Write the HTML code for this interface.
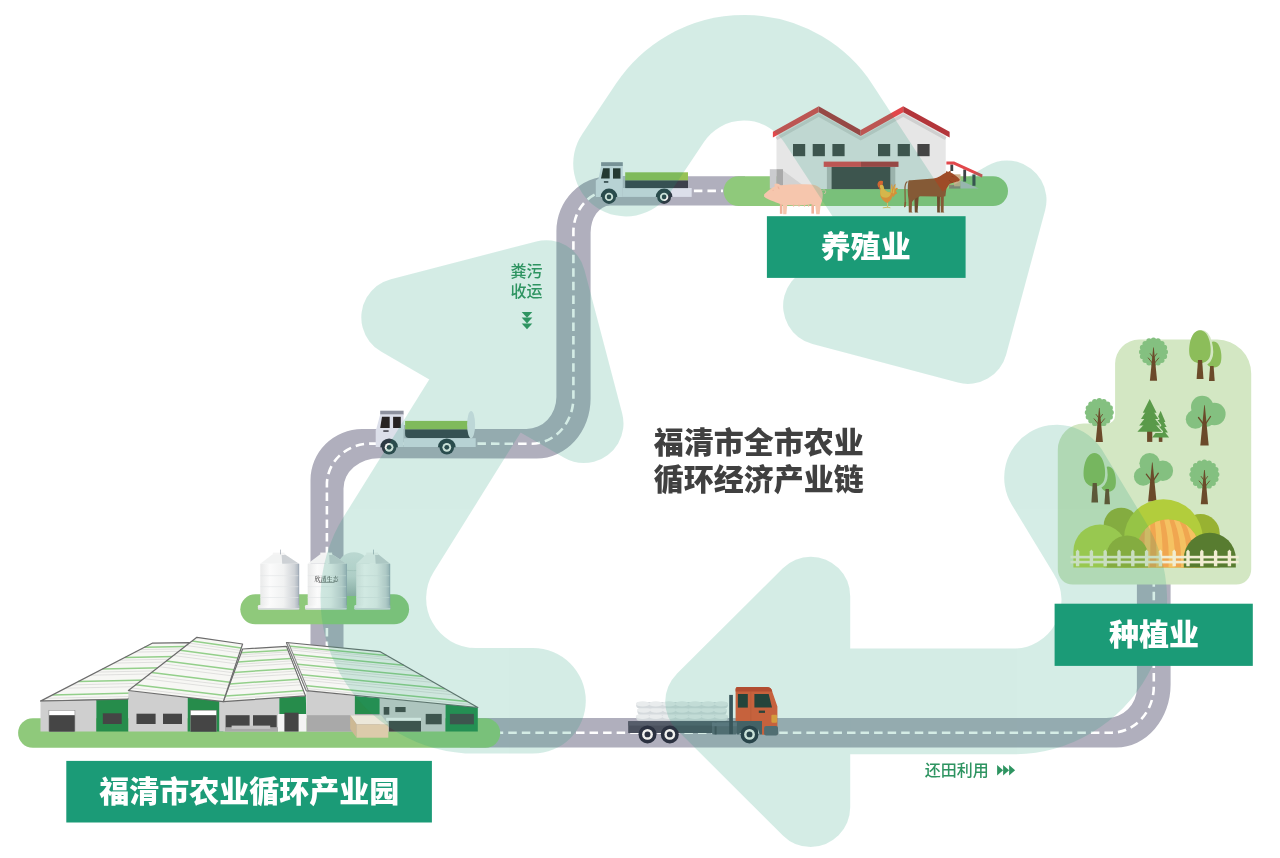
<!DOCTYPE html>
<html lang="zh-CN"><head><meta charset="utf-8"><title>福清市全市农业循环经济产业链</title>
<style>
html,body{margin:0;padding:0;background:#fff;}
body{width:1280px;height:858px;overflow:hidden;font-family:"Liberation Sans","Noto Sans CJK SC",sans-serif;}
svg{display:block;will-change:transform;}
text{font-family:"Liberation Sans","Noto Sans CJK SC",sans-serif;}
</style></head><body>
<svg width="1280" height="858" viewBox="0 0 1280 858">
<defs>
<linearGradient id="tank" x1="0" y1="0" x2="1" y2="0">
<stop offset="0" stop-color="#e9eaea"/><stop offset="0.25" stop-color="#fbfbfb"/><stop offset="0.6" stop-color="#f1f2f2"/><stop offset="0.88" stop-color="#cfd3d7"/><stop offset="1" stop-color="#aab4be"/>
</linearGradient>
<linearGradient id="tankb" x1="0" y1="0" x2="0" y2="1">
<stop offset="0" stop-color="#dfe6e6"/><stop offset="0.55" stop-color="#cfd9d8"/><stop offset="1" stop-color="#9fb0ad"/>
</linearGradient>
</defs>
<rect width="1280" height="858" fill="#ffffff"/>
<path d="M 745,176.2 L 610,176.2 A 53.6 54.8 0 0 0 556.4,231 L 556.4,397 A 30 32 0 0 1 526.4,429 L 362.1,429 A 51.6 51 0 0 0 310.5,480 L 310.5,665 L 343.5,665 L 343.5,488.4 A 35.4 30.2 0 0 1 378.9,458.2 L 536.7,458.5 A 53.9 60 0 0 0 590.6,398.5 L 590.6,232.7 A 19.4 27.1 0 0 1 610,205.6 L 745,205.6 Z" fill="#b0afbd"/>
<path d="M 470,717.9 L 1106.5,717.9 A 30.4 29.8 0 0 0 1136.9,688.1 L 1136.9,575 L 1170.6,575 L 1170.6,684.5 A 54.3 63 0 0 1 1116.3,747.5 L 470,747.5 Z" fill="#b0afbd"/>
<path d="M 723,190.9 L 610,190.9 A 36.6 41 0 0 0 573.4,231.9 L 573.4,397.7 A 42 46 0 0 1 531.4,443.7 L 370.5,443.6 A 43.6 40.8 0 0 0 326.9,484.4 L 326.9,665" fill="none" stroke="#fff" stroke-width="2.6" stroke-dasharray="8.5 5.05" stroke-dashoffset="6.5"/>
<path d="M 500,732.7 L 1111.4,732.7 A 42.4 46.4 0 0 0 1153.8,686.3 L 1153.8,575" fill="none" stroke="#fff" stroke-width="2.6" stroke-dasharray="8.5 5.05" stroke-dashoffset="5.3"/>
<rect x="723.6" y="176.2" width="284.4" height="29.8" rx="14.9" ry="14.9" fill="#8fc97b" />
<rect x="240.3" y="594.3" width="168.8" height="30.0" rx="15" ry="15" fill="#8fc97b" />
<rect x="18.1" y="718.3" width="482.1" height="29.4" rx="14.7" ry="14.7" fill="#8fc97b" />
<g><rect x="622.8" y="188.0" width="68.9" height="8.9" fill="#dcdfea" /><rect x="622.8" y="176.0" width="2.4" height="12.0" fill="#b9bcc8" /><rect x="625.2" y="172.3" width="62.8" height="8.3" fill="#97c255" /><rect x="625.2" y="180.5" width="62.8" height="7.6" fill="#3d404b" /><rect x="601.1" y="162.2" width="21.7" height="3.9" fill="#8d919e" /><polygon points="601.1,165.9 622.8,165.9 622.8,196.9 595.8,196.9 595.8,180.5 598.6,178.6" fill="#dcdfea" /><polygon points="603.1,168.3 609.7,168.3 609.7,178.6 601.0,178.6" fill="#272323" /><rect x="613.0" y="168.3" width="7.5" height="10.3" fill="#272323" /><rect x="603.9" y="181.1" width="4.4" height="1.7" fill="#3a3a44" /><path d="M 600.7,196.9 A 8.3 8.3 0 0 1 617.3,196.9 Z" fill="#2e3a44"/><circle cx="609.0" cy="196.9" r="7" fill="#2e3a44"/><circle cx="609.0" cy="196.9" r="4.20" fill="#f1f1ee"/><circle cx="609.0" cy="196.9" r="2.31" fill="#2e3a44"/><path d="M 655.8,196.9 A 8.3 8.3 0 0 1 672.4,196.9 Z" fill="#2e3a44"/><circle cx="664.1" cy="196.9" r="7" fill="#2e3a44"/><circle cx="664.1" cy="196.9" r="4.20" fill="#f1f1ee"/><circle cx="664.1" cy="196.9" r="2.31" fill="#2e3a44"/></g>
<g><rect x="403.6" y="438.2" width="72.1" height="8.8" fill="#dcdfea" /><rect x="403.6" y="425.0" width="1.6" height="13.2" fill="#b9bcc8" /><rect x="405.1" y="420.9" width="64.9" height="8.7" fill="#97c255" /><path d="M 405.1,429.5 L 470.6,429.5 L 470.6,437.9 L 409,437.9 Q 405.1,437.9 405.1,434 Z" fill="#3d404b"/><ellipse cx="471.1" cy="424.6" rx="4" ry="13.6" fill="#e3e6ee"/><rect x="380.2" y="410.7" width="23.4" height="4.0" fill="#8d919e" /><polygon points="380.2,414.5 403.6,414.5 403.6,447.0 375.7,447.0 375.7,430.0 376.3,429.0" fill="#dcdfea" /><polygon points="382.0,416.8 389.7,416.8 389.7,428.0 380.2,428.0" fill="#272323" /><rect x="393.1" y="416.8" width="7.7" height="11.2" fill="#272323" /><rect x="383.3" y="430.3" width="5.3" height="1.5" fill="#3a3a44" /><path d="M 380.2,447.3 A 8.9 8.9 0 0 1 398.0,447.3 Z" fill="#2e3a44"/><circle cx="389.1" cy="447.3" r="7.3" fill="#2e3a44"/><circle cx="389.1" cy="447.3" r="4.38" fill="#f1f1ee"/><circle cx="389.1" cy="447.3" r="2.41" fill="#2e3a44"/><path d="M 437.9,447.3 A 8.9 8.9 0 0 1 455.7,447.3 Z" fill="#2e3a44"/><circle cx="446.8" cy="447.3" r="7.3" fill="#2e3a44"/><circle cx="446.8" cy="447.3" r="4.38" fill="#f1f1ee"/><circle cx="446.8" cy="447.3" r="2.41" fill="#2e3a44"/></g>
<g><rect x="636.2" y="714.6" width="91.6" height="6.2" rx="3" fill="#d5dadd"/><ellipse cx="642.7" cy="716.5" rx="6.8" ry="2.6" fill="#e9eced"/><ellipse cx="655.8" cy="716.5" rx="6.8" ry="2.6" fill="#e9eced"/><ellipse cx="668.9" cy="716.5" rx="6.8" ry="2.6" fill="#e9eced"/><ellipse cx="682.0" cy="716.5" rx="6.8" ry="2.6" fill="#e9eced"/><ellipse cx="695.1" cy="716.5" rx="6.8" ry="2.6" fill="#e9eced"/><ellipse cx="708.2" cy="716.5" rx="6.8" ry="2.6" fill="#e9eced"/><ellipse cx="721.3" cy="716.5" rx="6.8" ry="2.6" fill="#e9eced"/><rect x="637.4" y="708.2" width="89.2" height="6.4" rx="3" fill="#d5dadd"/><ellipse cx="643.8" cy="710.1" rx="6.7" ry="2.6" fill="#e9eced"/><ellipse cx="656.5" cy="710.1" rx="6.7" ry="2.6" fill="#e9eced"/><ellipse cx="669.3" cy="710.1" rx="6.7" ry="2.6" fill="#e9eced"/><ellipse cx="682.0" cy="710.1" rx="6.7" ry="2.6" fill="#e9eced"/><ellipse cx="694.7" cy="710.1" rx="6.7" ry="2.6" fill="#e9eced"/><ellipse cx="707.5" cy="710.1" rx="6.7" ry="2.6" fill="#e9eced"/><ellipse cx="720.2" cy="710.1" rx="6.7" ry="2.6" fill="#e9eced"/><rect x="636.2" y="702.0" width="91.6" height="6.2" rx="3" fill="#d5dadd"/><ellipse cx="642.7" cy="703.9" rx="6.8" ry="2.6" fill="#e9eced"/><ellipse cx="655.8" cy="703.9" rx="6.8" ry="2.6" fill="#e9eced"/><ellipse cx="668.9" cy="703.9" rx="6.8" ry="2.6" fill="#e9eced"/><ellipse cx="682.0" cy="703.9" rx="6.8" ry="2.6" fill="#e9eced"/><ellipse cx="695.1" cy="703.9" rx="6.8" ry="2.6" fill="#e9eced"/><ellipse cx="708.2" cy="703.9" rx="6.8" ry="2.6" fill="#e9eced"/><ellipse cx="721.3" cy="703.9" rx="6.8" ry="2.6" fill="#e9eced"/><path d="M 628.2,721.2 L 745,721.2 L 758.1,721.2 L 758.1,733 L 628.2,733 Z" fill="#4b515e"/><rect x="628.2" y="721.2" width="129.9" height="4.4" fill="#565d6a" /><rect x="712.0" y="722.2" width="24.9" height="12.2" rx="1.5" ry="1.5" fill="#5d6472" /><rect x="714.6" y="722.2" width="2.0" height="12.2" fill="#464c58" /><rect x="712.0" y="722.4" width="24.9" height="3.8" fill="#687080" /><rect x="729.2" y="694.9" width="3.7" height="39.2" fill="#3f4654" /><path d="M 735.6,689 Q 735.6,687 737.6,687 L 767,687 Q 770.5,687 771.5,689.5 L 777.4,706.5 L 777.4,734.8 L 762,734.8 L 762,721 L 735.6,721 Z" fill="#ee5530"/><path d="M 735.6,689 Q 735.6,687 737.6,687 L 767,687 Q 770.5,687 771.5,689.5 L 772.3,691.6 L 735.6,691.6 Z" fill="#d63c22"/><rect x="750.6" y="691.6" width="0.6" height="29.4" fill="#d84a2a" /><rect x="737.9" y="694.0" width="9.9" height="13.6" fill="#27302e" /><polygon points="754.4,694.0 768.7,694.0 772.0,707.6 754.4,707.6" fill="#27302e" /><rect x="758.8" y="710.6" width="6.2" height="2.3" fill="#30302e" /><rect x="771.4" y="714.8" width="5.6" height="8.0" rx="1" ry="1" fill="#ff9d30" /><path d="M 739.5,734.4 A 10 10 0 0 1 759.5,734.4 L 762,734.4 L 762,721 L 737,721 L 737,734.4 Z" fill="#4d5563"/><rect x="764.1" y="726.1" width="13.9" height="9.3" rx="2" ry="2" fill="#5d6472" /><circle cx="647.5" cy="734.4" r="9" fill="#2b3140"/><circle cx="647.5" cy="734.4" r="5.40" fill="#f1f1ee"/><circle cx="647.5" cy="734.4" r="2.97" fill="#2b3140"/><circle cx="669.8" cy="734.4" r="9" fill="#2b3140"/><circle cx="669.8" cy="734.4" r="5.40" fill="#f1f1ee"/><circle cx="669.8" cy="734.4" r="2.97" fill="#2b3140"/><circle cx="749.5" cy="734.4" r="9" fill="#2b3140"/><circle cx="749.5" cy="734.4" r="5.40" fill="#f1f1ee"/><circle cx="749.5" cy="734.4" r="2.97" fill="#2b3140"/></g>
<g><polygon points="776.5,135.6 818.7,112.0 860.7,135.6 903.2,112.0 945.7,135.6 945.7,189.1 776.5,189.1" fill="#e6e6e6" /><polygon points="783.0,170.5 808.0,189.1 783.0,189.1" fill="#d2d2d2" /><rect x="769.8" y="169.2" width="6.6" height="19.4" fill="#cbcbce" /><rect x="776.4" y="169.2" width="6.6" height="19.4" fill="#a9a9a9" /><polyline points="776.5,138.6 818.7,115 860.7,138.6 903.2,115 945.7,138.6" fill="none" stroke="#cfcfcf" stroke-width="3.2"/><polygon points="772.9,131.7 818.7,106.2 818.7,112.2 772.9,137.6" fill="#e2474b" /><polygon points="818.7,106.2 860.7,130.1 860.7,136.1 818.7,112.2" fill="#b3353a" /><polygon points="860.7,130.1 903.2,106.2 903.2,112.2 860.7,136.1" fill="#e2474b" /><polygon points="903.2,106.2 949.6,131.7 949.6,137.6 903.2,112.2" fill="#b3353a" /><rect x="793.0" y="144.0" width="12.2" height="12.2" fill="#454545" /><rect x="812.7" y="144.0" width="12.2" height="12.2" fill="#454545" /><rect x="832.4" y="144.0" width="12.2" height="12.2" fill="#454545" /><rect x="878.0" y="144.0" width="12.2" height="12.2" fill="#454545" /><rect x="897.7" y="144.0" width="12.2" height="12.2" fill="#454545" /><rect x="917.4" y="144.0" width="12.2" height="12.2" fill="#454545" /><rect x="826.9" y="166.8" width="68.4" height="22.3" fill="#b9b9b9" /><rect x="831.6" y="166.8" width="58.7" height="22.3" fill="#454545" /><rect x="823.7" y="161.6" width="37.3" height="5.3" fill="#e2474b" /><rect x="861.0" y="161.6" width="37.5" height="5.3" fill="#b3353a" /><polygon points="949.0,184.9 960.5,184.9 960.5,188.6 949.0,188.6" fill="#8d8676" /><rect x="954.1" y="174.3" width="6.4" height="12.0" fill="#cdb08d" /><polygon points="960.5,180.6 978.8,188.6 960.5,188.6" fill="#b4bdbb" /><rect x="950.4" y="164.5" width="2.8" height="6.5" fill="#3d4446" /><rect x="963.3" y="169.5" width="2.8" height="12.1" fill="#3d4446" /><rect x="972.4" y="174.5" width="3.1" height="11.3" fill="#3d4446" /><polygon points="946.4,161.4 954.1,161.4 982.6,174.4 982.0,177.6 953.4,164.5 946.4,164.5" fill="#e2474b" /></g>
<g><rect x="779.9" y="203.0" width="2.5" height="10.8" fill="#efb29a" /><rect x="811.4" y="203.0" width="2.6" height="10.6" fill="#efb29a" /><path d="M 822.3,190.4 q 3,-1.4 3.4,1.4 q 0,2.2 -1.8,1.8" fill="none" stroke="#f6c6ad" stroke-width="0.9"/><path d="M 764.2,194.2 L 764,196.6 C 766,198.6 770,200.4 774,201.6 C 776,202.6 778,203.4 779.6,203.8 L 783,205 L 783.2,214.2 L 786.4,214.2 L 787.2,205 C 795,205.8 806,205.6 811.5,204 L 815.4,206 L 816.2,214.2 L 819.6,214.2 L 820.6,205 C 822.4,201 823.2,196.4 822.6,192.8 C 821.6,187.8 817,185 811,184.6 C 800,184 790,184.2 780.8,185.3 L 779.2,184.2 C 777.8,183.3 775.4,183.3 774.3,184.3 L 774.9,186.2 C 771,188.6 767,191.4 764.2,194.2 Z" fill="#f6c6ad"/><path d="M 777.6,186.2 C 778.8,186.4 779.6,187.6 779.4,189.4 C 778.2,189 777.4,187.8 777.6,186.2 Z" fill="#efb29a"/><path d="M 772.4,190.6 L 774,190.2" stroke="#efb29a" stroke-width="0.6" fill="none"/><ellipse cx="793.6" cy="205.6" rx="0.8" ry="1.1" fill="#efb29a"/><ellipse cx="799" cy="205.6" rx="0.8" ry="1.1" fill="#efb29a"/><ellipse cx="804.5" cy="205.6" rx="0.8" ry="1.1" fill="#efb29a"/><ellipse cx="808.6" cy="205.6" rx="0.8" ry="1.1" fill="#efb29a"/></g>
<g><path d="M 887.5,202 L 887.6,207.3 M 883.2,207.8 L 887.6,207.2 L 890,207.7" fill="none" stroke="#f3c96a" stroke-width="1" stroke-linecap="round"/><path d="M 890.6,194 C 890.8,189 891,185.6 891.9,183.4 C 892.6,185.4 892.6,187.6 892.6,189.6 C 893.2,186.6 894.2,184.4 895.6,183.8 C 895.4,185.6 895,187.4 895,189.2 C 895.8,187.8 897,187.4 898,188.4 C 896.6,189.2 896,190.6 896,191.8 C 896.8,191.8 897.3,192.6 897,193.8 C 895.6,193.6 894.6,195 893.4,197.2 Z" fill="#ff8e2c"/><path d="M 890.8,193 C 891,189 891.2,186.6 891.9,184.6 C 892.2,187 892,190 891.8,193 Z M 892.6,193 C 893,190 893.8,187.4 895,185.4 C 894.6,188 894.2,190.6 894,193.4 Z" fill="#ffbd42"/><path d="M 881,184.6 C 882.2,184.2 883,185 883.4,186.2 C 883.8,188 884.4,189.4 885.4,190.6 C 886.6,191.8 888.6,192.4 891.4,192.8 C 892.6,193.8 892.8,195.6 892.2,197 C 891.4,199.4 889.6,201.8 887.5,202.9 C 884.8,202.4 882.6,200.4 881.2,197.8 C 880,195.6 880,193 880.3,190.4 C 880.4,188.8 879.8,187.6 879.6,186.4 C 879.8,185.4 880.2,184.8 881,184.6 Z" fill="#ff8e2c"/><path d="M 881,184.6 C 882.2,184.2 883,185 883.4,186.2 C 883.8,188 884.4,189.4 885.4,190.6 C 886.6,191.8 888.6,192.4 890.8,192.8 C 891,195 889.6,197 887.4,197.6 C 884.6,198 882,197 880.8,195.4 C 880.2,193.8 880.2,192 880.3,190.4 C 880.4,188.8 879.8,187.6 879.6,186.4 C 879.8,185.4 880.2,184.8 881,184.6 Z" fill="#ffbd42"/><path d="M 877.5,184.4 C 877.6,182.4 879.4,180.6 881,180.9 C 881.8,180.4 882.8,180.6 883,181.4 C 883,183 882.8,184.2 882.2,185.2 C 881.4,184.6 880.4,184.8 879.8,185.6 C 879.4,186.4 879.4,187.2 879.6,188 C 878.4,187.4 877.6,186 877.5,184.4 Z" fill="#ff5a22"/><path d="M 878.7,187 C 879.2,187.6 879.8,187.8 880.3,188 L 880.4,189.6 C 879.4,189.4 878.7,188.4 878.7,187 Z" fill="#f0401e"/></g>
<g><path d="M 907.4,181.6 C 905,183 904.8,186 905,190 L 905.2,202 " fill="none" stroke="#9e4b27" stroke-width="1.2"/><path d="M 904.4,202 L 906.2,202 L 905.8,206.6 L 904,207.6 Z" fill="#9e4b27"/><polygon points="914.3,195.0 918.8,195.0 917.6,211.6 918.4,212.6 914.8,212.6" fill="#7f3b1e" /><polygon points="937.0,195.0 940.0,195.0 939.8,211.6 940.4,212.6 937.2,212.6" fill="#7f3b1e" /><path d="M 908.4,180.8 C 909,180.2 910,180.2 911,180.2 L 933.6,178.6 C 938,178 942,175 946,172.6 L 946.6,170.8 L 948,172 L 950.6,170.6 L 950.6,172.6 C 954,174 957,176.6 959.8,179.4 C 959.6,180.8 958.4,181.4 957,181.6 C 954,182.6 952,183.2 949.9,183.8 C 948,186 946.8,188 946.2,189.8 L 945.4,196.2 L 943.8,196.4 L 943.6,211.6 L 944.4,212.6 L 940.8,212.6 L 940.6,197 L 937.4,196.4 L 920.2,196.3 C 917,197.4 914,199.4 912,202 L 911.7,211.6 L 912.6,212.6 L 908.8,212.6 L 908.6,200 C 907.6,194 907.4,187 908.4,180.8 Z" fill="#9e4b27"/><path d="M 949,180 C 950,181.6 951.4,182.4 953,182.6" fill="none" stroke="#7f3b1e" stroke-width="0.5"/><path d="M 951.6,176.4 L 953.6,176.8" fill="none" stroke="#7f3b1e" stroke-width="0.5"/></g>
<g><path d="M 337.7,566 A 16.2 14.8 0 0 1 370,566 L 370,596 L 337.7,596 Z" fill="url(#tankb)"/><path d="M 337.7,568.4 C 345,571.4 362,571.4 370,568.4" fill="none" stroke="#b9c6c4" stroke-width="0.7"/><rect x="257.9" y="605" width="41.5" height="4.4" rx="1.2" fill="url(#tank)"/><rect x="257.9" y="608" width="41.5" height="1.4" rx="0.7" fill="#d9dcdf"/><rect x="260.3" y="563.8" width="38.7" height="41.7" fill="url(#tank)"/><rect x="260.3" y="575.5" width="38.7" height="0.6" fill="#e2e4e6"/><rect x="260.3" y="586.5" width="38.7" height="0.6" fill="#e2e4e6"/><rect x="260.3" y="597" width="38.7" height="0.6" fill="#e2e4e6"/><polygon points="260.3,563.8 272.4,554.4 285.0,554.4 299.0,563.8" fill="#f2f3f3" /><polygon points="281.6,554.4 285.0,554.4 299.0,563.8 282.2,563.8" fill="#cdd1d5" /><rect x="272.8" y="552.6" width="11.8" height="2.4" fill="#f4f4f4" /><rect x="298.5" y="563.8" width="0.7" height="41.2" fill="#98a4b2" /><rect x="280.0" y="549.6" width="0.6" height="4.8" fill="#8f9aa6" /><rect x="305.0" y="605" width="41.8" height="4.4" rx="1.2" fill="url(#tank)"/><rect x="305.0" y="608" width="41.8" height="1.4" rx="0.7" fill="#d9dcdf"/><rect x="307.7" y="563.8" width="38.8" height="41.7" fill="url(#tank)"/><rect x="307.7" y="575.5" width="38.8" height="0.6" fill="#e2e4e6"/><rect x="307.7" y="586.5" width="38.8" height="0.6" fill="#e2e4e6"/><rect x="307.7" y="597" width="38.8" height="0.6" fill="#e2e4e6"/><polygon points="307.7,563.8 319.9,554.4 332.5,554.4 346.5,563.8" fill="#f2f3f3" /><polygon points="329.1,554.4 332.5,554.4 346.5,563.8 329.7,563.8" fill="#cdd1d5" /><rect x="320.3" y="552.6" width="11.8" height="2.4" fill="#f4f4f4" /><rect x="346.0" y="563.8" width="0.7" height="41.2" fill="#98a4b2" /><text x="326.5" y="580.6" font-size="6" text-anchor="middle" fill="#4a4a4a" style="font-family:'Liberation Serif','Noto Serif CJK SC',serif;font-weight:500">欣清生态</text><rect x="318.5" y="582.3" width="16.0" height="0.6" fill="#666" /><rect x="354.3" y="605" width="36.1" height="4.4" rx="1.2" fill="url(#tank)"/><rect x="354.3" y="608" width="36.1" height="1.4" rx="0.7" fill="#d9dcdf"/><rect x="356.2" y="563.8" width="33.8" height="41.7" fill="url(#tank)"/><rect x="356.2" y="575.5" width="33.8" height="0.6" fill="#e2e4e6"/><rect x="356.2" y="586.5" width="33.8" height="0.6" fill="#e2e4e6"/><rect x="356.2" y="597" width="33.8" height="0.6" fill="#e2e4e6"/><polygon points="356.2,563.8 365.9,554.4 378.5,554.4 390.0,563.8" fill="#f2f3f3" /><polygon points="375.1,554.4 378.5,554.4 390.0,563.8 375.7,563.8" fill="#cdd1d5" /><rect x="366.3" y="552.6" width="11.8" height="2.4" fill="#f4f4f4" /><rect x="389.5" y="563.8" width="0.7" height="41.2" fill="#98a4b2" /><rect x="373.2" y="549.6" width="0.6" height="4.8" fill="#8f9aa6" /></g>
<g><polygon points="152.2,643.2 189.8,642.6 127.8,699.1 40.5,701.1" fill="#f7f7f4" /><line x1="144.3" y1="647.3" x2="185.4" y2="646.6" stroke="#93cf8a" stroke-width="1.5"/><line x1="139.8" y1="649.6" x2="182.9" y2="648.9" stroke="#d6d6d4" stroke-width="0.7"/><line x1="124.8" y1="657.4" x2="174.6" y2="656.5" stroke="#93cf8a" stroke-width="1.5"/><line x1="135.0" y1="652.1" x2="180.3" y2="651.3" stroke="#d6d6d4" stroke-width="0.7"/><line x1="119.4" y1="660.2" x2="171.6" y2="659.2" stroke="#d6d6d4" stroke-width="0.7"/><line x1="102.4" y1="669.0" x2="162.2" y2="667.8" stroke="#93cf8a" stroke-width="1.5"/><line x1="113.9" y1="663.1" x2="168.5" y2="662.0" stroke="#d6d6d4" stroke-width="0.7"/><line x1="96.5" y1="672.1" x2="158.9" y2="670.8" stroke="#d6d6d4" stroke-width="0.7"/><line x1="78.1" y1="681.6" x2="148.7" y2="680.1" stroke="#93cf8a" stroke-width="1.5"/><line x1="90.5" y1="675.2" x2="155.5" y2="673.8" stroke="#d6d6d4" stroke-width="0.7"/><line x1="71.8" y1="684.9" x2="145.2" y2="683.2" stroke="#d6d6d4" stroke-width="0.7"/><line x1="52.5" y1="694.9" x2="134.4" y2="693.1" stroke="#93cf8a" stroke-width="1.5"/><line x1="65.5" y1="688.2" x2="141.7" y2="686.5" stroke="#d6d6d4" stroke-width="0.7"/><line x1="45.8" y1="698.3" x2="130.8" y2="696.4" stroke="#d6d6d4" stroke-width="0.7"/><polygon points="152.2,643.2 189.8,642.6 127.8,699.1 40.5,701.1" fill="none" stroke="#6c6c6c" stroke-width="1.2" stroke-linejoin="round"/><polygon points="40.5,701.1 96.3,699.9 96.3,731.6 40.5,731.6" fill="#cfcfcf" /><polygon points="96.3,699.9 128.4,699.1 128.4,731.6 96.3,731.6" fill="#268c4b" /><rect x="48.6" y="710.0" width="26.6" height="21.6" fill="#8d8d8d" /><rect x="49.2" y="710.6" width="25.4" height="4.7" fill="#fff" /><rect x="49.2" y="715.3" width="25.4" height="16.3" fill="#454545" /><rect x="102.8" y="713.3" width="18.9" height="10.7" fill="#454545" /><polygon points="128.4,690.5 187.7,697.4 187.7,731.6 128.4,731.6" fill="#cfcfcf" /><polygon points="187.7,697.4 223.3,701.5 223.3,731.6 187.7,731.6" fill="#268c4b" /><rect x="136.5" y="713.7" width="19.1" height="10.3" fill="#454545" /><rect x="163.0" y="713.7" width="19.0" height="10.3" fill="#454545" /><rect x="190.2" y="710.0" width="26.6" height="21.6" fill="#7a8a7e" /><rect x="190.8" y="710.6" width="25.4" height="4.7" fill="#fff" /><rect x="190.8" y="715.3" width="25.4" height="16.3" fill="#454545" /><polygon points="219.2,701.6 279.3,697.6 279.3,731.6 219.2,731.6" fill="#cfcfcf" /><polygon points="279.3,697.6 305.8,695.9 306.3,714.0 279.3,714.0" fill="#268c4b" /><rect x="278.0" y="714.0" width="28.3" height="17.6" fill="#f4f4f4" /><rect x="284.4" y="712.7" width="14.2" height="18.9" fill="#454545" /><rect x="225.6" y="715.2" width="24.0" height="12.9" fill="#454545" /><rect x="253.0" y="715.2" width="23.7" height="12.9" fill="#454545" /><rect x="225.0" y="727.2" width="53.0" height="4.4" fill="#a9a9a9" /><rect x="231.6" y="725.6" width="38.6" height="3.3" fill="#c4c4c4" /><polygon points="306.3,690.7 354.8,695.9 354.8,731.6 306.3,731.6" fill="#cfcfcf" /><rect x="307.0" y="715.2" width="47.8" height="16.4" fill="#a9a9a9" /><polygon points="354.8,695.9 379.8,698.2 379.8,714.0 354.8,714.0" fill="#268c4b" /><rect x="354.8" y="714.0" width="25.0" height="17.6" fill="#a9a9a9" /><polygon points="379.8,698.2 445.5,703.9 445.5,731.6 379.8,731.6" fill="#cfcfcf" /><polygon points="445.5,703.9 477.8,707.5 477.8,731.6 445.5,731.6" fill="#268c4b" /><rect x="383.7" y="707.0" width="5.6" height="7.7" fill="#454545" /><rect x="395.3" y="707.0" width="10.3" height="5.1" fill="#454545" /><rect x="386.2" y="717.8" width="34.8" height="3.1" fill="#f7f7f7" /><rect x="388.8" y="720.9" width="32.2" height="10.7" fill="#454545" /><rect x="425.7" y="713.9" width="16.0" height="10.4" fill="#454545" /><rect x="449.9" y="713.9" width="24.0" height="10.4" fill="#454545" /><line x1="40.5" y1="701.1" x2="128.2" y2="699.2" stroke="#6c6c6c" stroke-width="1"/><polygon points="242.6,649.0 286.5,646.4 305.5,695.9 223.3,701.6" fill="#f7f7f4" /><line x1="241.2" y1="652.7" x2="287.8" y2="649.9" stroke="#93cf8a" stroke-width="1.5"/><line x1="240.5" y1="654.8" x2="288.6" y2="651.9" stroke="#d6d6d4" stroke-width="0.7"/><line x1="237.9" y1="661.9" x2="291.2" y2="658.5" stroke="#93cf8a" stroke-width="1.5"/><line x1="239.6" y1="657.1" x2="289.4" y2="654.0" stroke="#d6d6d4" stroke-width="0.7"/><line x1="236.9" y1="664.4" x2="292.1" y2="660.9" stroke="#d6d6d4" stroke-width="0.7"/><line x1="234.0" y1="672.4" x2="295.0" y2="668.5" stroke="#93cf8a" stroke-width="1.5"/><line x1="236.0" y1="667.0" x2="293.0" y2="663.4" stroke="#d6d6d4" stroke-width="0.7"/><line x1="233.0" y1="675.2" x2="296.0" y2="671.1" stroke="#d6d6d4" stroke-width="0.7"/><line x1="229.8" y1="683.9" x2="299.1" y2="679.2" stroke="#93cf8a" stroke-width="1.5"/><line x1="231.9" y1="678.1" x2="297.0" y2="673.8" stroke="#d6d6d4" stroke-width="0.7"/><line x1="228.7" y1="686.8" x2="300.2" y2="682.0" stroke="#d6d6d4" stroke-width="0.7"/><line x1="225.4" y1="696.0" x2="303.5" y2="690.6" stroke="#93cf8a" stroke-width="1.5"/><line x1="227.6" y1="689.8" x2="301.3" y2="684.8" stroke="#d6d6d4" stroke-width="0.7"/><line x1="224.2" y1="699.1" x2="304.6" y2="693.5" stroke="#d6d6d4" stroke-width="0.7"/><polygon points="242.6,649.0 286.5,646.4 305.5,695.9 223.3,701.6" fill="none" stroke="#6c6c6c" stroke-width="1.2" stroke-linejoin="round"/><polygon points="196.9,637.3 242.6,644.0 223.3,701.6 128.4,690.5" fill="#f7f7f4" /><line x1="192.1" y1="641.1" x2="241.2" y2="648.1" stroke="#93cf8a" stroke-width="1.5"/><line x1="189.3" y1="643.2" x2="240.5" y2="650.4" stroke="#d6d6d4" stroke-width="0.7"/><line x1="180.1" y1="650.3" x2="237.9" y2="658.1" stroke="#93cf8a" stroke-width="1.5"/><line x1="186.4" y1="645.5" x2="239.6" y2="652.9" stroke="#d6d6d4" stroke-width="0.7"/><line x1="176.8" y1="652.9" x2="236.9" y2="660.9" stroke="#d6d6d4" stroke-width="0.7"/><line x1="166.4" y1="661.0" x2="234.0" y2="669.7" stroke="#93cf8a" stroke-width="1.5"/><line x1="173.4" y1="655.5" x2="236.0" y2="663.8" stroke="#d6d6d4" stroke-width="0.7"/><line x1="162.7" y1="663.8" x2="233.0" y2="672.7" stroke="#d6d6d4" stroke-width="0.7"/><line x1="151.5" y1="672.6" x2="229.8" y2="682.2" stroke="#93cf8a" stroke-width="1.5"/><line x1="159.0" y1="666.7" x2="231.9" y2="675.8" stroke="#d6d6d4" stroke-width="0.7"/><line x1="147.6" y1="675.6" x2="228.7" y2="685.4" stroke="#d6d6d4" stroke-width="0.7"/><line x1="135.7" y1="684.8" x2="225.4" y2="695.4" stroke="#93cf8a" stroke-width="1.5"/><line x1="143.7" y1="678.6" x2="227.6" y2="688.7" stroke="#d6d6d4" stroke-width="0.7"/><line x1="131.7" y1="688.0" x2="224.2" y2="698.8" stroke="#d6d6d4" stroke-width="0.7"/><polygon points="196.9,637.3 242.6,644.0 223.3,701.6 128.4,690.5" fill="none" stroke="#6c6c6c" stroke-width="1.2" stroke-linejoin="round"/><polygon points="286.5,642.5 379.8,651.6 477.8,707.5 306.3,690.7" fill="#f7f7f4" /><line x1="287.9" y1="645.9" x2="386.7" y2="655.6" stroke="#93cf8a" stroke-width="1.5"/><line x1="288.7" y1="647.8" x2="390.7" y2="657.8" stroke="#d6d6d4" stroke-width="0.7"/><line x1="291.4" y1="654.3" x2="403.8" y2="665.3" stroke="#93cf8a" stroke-width="1.5"/><line x1="289.5" y1="649.9" x2="394.9" y2="660.2" stroke="#d6d6d4" stroke-width="0.7"/><line x1="292.3" y1="656.6" x2="408.6" y2="668.0" stroke="#d6d6d4" stroke-width="0.7"/><line x1="295.3" y1="664.0" x2="423.5" y2="676.5" stroke="#93cf8a" stroke-width="1.5"/><line x1="293.3" y1="659.0" x2="413.4" y2="670.8" stroke="#d6d6d4" stroke-width="0.7"/><line x1="296.4" y1="666.5" x2="428.7" y2="679.5" stroke="#d6d6d4" stroke-width="0.7"/><line x1="299.6" y1="674.5" x2="444.8" y2="688.7" stroke="#93cf8a" stroke-width="1.5"/><line x1="297.4" y1="669.1" x2="434.0" y2="682.5" stroke="#d6d6d4" stroke-width="0.7"/><line x1="300.7" y1="677.2" x2="450.3" y2="691.8" stroke="#d6d6d4" stroke-width="0.7"/><line x1="304.2" y1="685.5" x2="467.3" y2="701.5" stroke="#93cf8a" stroke-width="1.5"/><line x1="301.9" y1="679.9" x2="455.9" y2="695.0" stroke="#d6d6d4" stroke-width="0.7"/><line x1="305.4" y1="688.4" x2="473.1" y2="704.8" stroke="#d6d6d4" stroke-width="0.7"/><polygon points="286.5,642.5 379.8,651.6 477.8,707.5 306.3,690.7" fill="none" stroke="#6c6c6c" stroke-width="1.2" stroke-linejoin="round"/><polygon points="286.5,642.5 288.6,643.2 308.4,691.0 306.3,690.7" fill="#ececec" stroke="#6c6c6c" stroke-width="0.8" stroke-linejoin="round"/><polygon points="350.2,715.2 381.1,715.2 388.3,724.3 356.6,724.3" fill="#ece8da" /><polygon points="350.2,715.2 356.6,724.3 356.6,737.7 350.2,729.0" fill="#cdb994" /><rect x="356.6" y="724.3" width="31.7" height="13.4" fill="#dccbab" /></g>
<path d="M 1139.1,339.6 L 1217.2,339.6 A 34 34 0 0 1 1251.2,373.6 L 1251.2,569.6 A 15 15 0 0 1 1236.2,584.6 L 1072.8,584.6 A 15 15 0 0 1 1057.8,569.6 L 1057.8,449.6 A 26 26 0 0 1 1083.8,423.6 L 1107.1,423.6 A 8 8 0 0 0 1115.1,415.6 L 1115.1,363.6 A 24 24 0 0 1 1139.1,339.6 Z" fill="#d3e7c3"/>
<g><circle cx="1153.5" cy="351.9" r="12.8" fill="#84c080"/><circle cx="1165.3" cy="351.9" r="2.7" fill="#84c080"/><circle cx="1164.4" cy="356.4" r="2.7" fill="#84c080"/><circle cx="1161.8" cy="360.2" r="2.7" fill="#84c080"/><circle cx="1158.0" cy="362.8" r="2.7" fill="#84c080"/><circle cx="1153.5" cy="363.7" r="2.7" fill="#84c080"/><circle cx="1149.0" cy="362.8" r="2.7" fill="#84c080"/><circle cx="1145.2" cy="360.2" r="2.7" fill="#84c080"/><circle cx="1142.6" cy="356.4" r="2.7" fill="#84c080"/><circle cx="1141.7" cy="351.9" r="2.7" fill="#84c080"/><circle cx="1142.6" cy="347.4" r="2.7" fill="#84c080"/><circle cx="1145.2" cy="343.6" r="2.7" fill="#84c080"/><circle cx="1149.0" cy="341.0" r="2.7" fill="#84c080"/><circle cx="1153.5" cy="340.1" r="2.7" fill="#84c080"/><circle cx="1158.0" cy="341.0" r="2.7" fill="#84c080"/><circle cx="1161.8" cy="343.6" r="2.7" fill="#84c080"/><circle cx="1164.4" cy="347.4" r="2.7" fill="#84c080"/><path d="M 1149.9,380.7 L 1157.1,380.7 L 1153.8,347.4 L 1153.2,347.4 Z" fill="#6b4a2a"/><path d="M 1153.5,364.4 L 1148.3,358.0 M 1153.5,364.4 L 1158.7,358.0 M 1153.5,358.1 L 1150.3,353.7 M 1153.5,358.1 L 1156.7,353.7" stroke="#6b4a2a" stroke-width="0.9" fill="none" stroke-linecap="round"/><path d="M 1213.6,341.6 C 1221.1,341.6 1222.7,357.9 1220.7,362.7 C 1218.3,369.2 1208.9,369.2 1206.5,362.7 C 1204.5,357.9 1206.1,341.6 1213.6,341.6 Z" fill="#8cbd5a"/><path d="M 1201.0,331.4 C 1211.3,331.4 1213.4,352.1 1210.7,358.3 C 1207.5,366.6 1194.5,366.6 1191.3,358.3 C 1188.6,352.1 1190.7,331.4 1201.0,331.4 Z" fill="#d3e7c3" stroke="#d3e7c3" stroke-width="2.6"/><path d="M 1200.0,330.2 C 1210.3,330.2 1212.4,350.9 1209.7,357.1 C 1206.5,365.4 1193.5,365.4 1190.3,357.1 C 1187.6,350.9 1189.7,330.2 1200.0,330.2 Z" fill="#8cbd5a"/><path d="M 1196.6,379.0 L 1203.5,379.0 L 1202.1,360.0 L 1198.0,360.0 Z" fill="#6b4a2a"/><path d="M 1209.0,381.0 L 1214.7,381.0 L 1213.6,366.0 L 1210.1,366.0 Z" fill="#6b4a2a"/><circle cx="1099.3" cy="412.5" r="12.8" fill="#84c080"/><circle cx="1111.1" cy="412.5" r="2.7" fill="#84c080"/><circle cx="1110.2" cy="417.0" r="2.7" fill="#84c080"/><circle cx="1107.6" cy="420.8" r="2.7" fill="#84c080"/><circle cx="1103.8" cy="423.4" r="2.7" fill="#84c080"/><circle cx="1099.3" cy="424.3" r="2.7" fill="#84c080"/><circle cx="1094.8" cy="423.4" r="2.7" fill="#84c080"/><circle cx="1091.0" cy="420.8" r="2.7" fill="#84c080"/><circle cx="1088.4" cy="417.0" r="2.7" fill="#84c080"/><circle cx="1087.5" cy="412.5" r="2.7" fill="#84c080"/><circle cx="1088.4" cy="408.0" r="2.7" fill="#84c080"/><circle cx="1091.0" cy="404.2" r="2.7" fill="#84c080"/><circle cx="1094.8" cy="401.6" r="2.7" fill="#84c080"/><circle cx="1099.3" cy="400.7" r="2.7" fill="#84c080"/><circle cx="1103.8" cy="401.6" r="2.7" fill="#84c080"/><circle cx="1107.6" cy="404.2" r="2.7" fill="#84c080"/><circle cx="1110.2" cy="408.0" r="2.7" fill="#84c080"/><path d="M 1095.7,441.9 L 1102.9,441.9 L 1099.6,408.0 L 1099.0,408.0 Z" fill="#6b4a2a"/><path d="M 1099.3,425.2 L 1094.1,418.8 M 1099.3,425.2 L 1104.5,418.8 M 1099.3,418.8 L 1096.1,414.4 M 1099.3,418.8 L 1102.5,414.4" stroke="#6b4a2a" stroke-width="0.9" fill="none" stroke-linecap="round"/><rect x="1158.8" y="436.6" width="3.6" height="5.3" fill="#6b4a2a"/><path d="M 1160.6,410.8 L 1165.4,421.9 L 1155.8,421.9 Z" fill="#5a9a4a"/><path d="M 1160.6,416.0 L 1166.6,427.1 L 1154.6,427.1 Z" fill="#5a9a4a"/><path d="M 1160.6,421.3 L 1167.9,432.4 L 1153.3,432.4 Z" fill="#5a9a4a"/><path d="M 1160.6,426.5 L 1169.1,437.6 L 1152.1,437.6 Z" fill="#5a9a4a"/><rect x="1147.1" y="430.8" width="5.2" height="1.0" fill="#6b4a2a"/><path d="M 1149.7,399.1 L 1156.6,412.7 L 1142.8,412.7 Z" fill="#d3e7c3" stroke="#d3e7c3" stroke-width="2.2" stroke-linejoin="round"/><path d="M 1149.7,405.5 L 1158.4,419.0 L 1141.0,419.0 Z" fill="#d3e7c3" stroke="#d3e7c3" stroke-width="2.2" stroke-linejoin="round"/><path d="M 1149.7,411.9 L 1160.2,425.4 L 1139.2,425.4 Z" fill="#d3e7c3" stroke="#d3e7c3" stroke-width="2.2" stroke-linejoin="round"/><path d="M 1149.7,418.2 L 1162.0,431.8 L 1137.4,431.8 Z" fill="#d3e7c3" stroke="#d3e7c3" stroke-width="2.2" stroke-linejoin="round"/><rect x="1147.1" y="430.8" width="5.2" height="11.1" fill="#6b4a2a"/><path d="M 1149.7,399.1 L 1156.6,412.7 L 1142.8,412.7 Z" fill="#5a9a4a"/><path d="M 1149.7,405.5 L 1158.4,419.0 L 1141.0,419.0 Z" fill="#5a9a4a"/><path d="M 1149.7,411.9 L 1160.2,425.4 L 1139.2,425.4 Z" fill="#5a9a4a"/><path d="M 1149.7,418.2 L 1162.0,431.8 L 1137.4,431.8 Z" fill="#5a9a4a"/><circle cx="1202.2" cy="407.0" r="11.2" fill="#84c080"/><circle cx="1214.4" cy="414.0" r="11.2" fill="#84c080"/><circle cx="1195.4" cy="419.2" r="9.6" fill="#84c080"/><circle cx="1206.0" cy="418.0" r="9.0" fill="#84c080"/><path d="M 1200.3,445.4 L 1208.7,445.4 L 1204.8,405.2 L 1204.2,405.2 Z" fill="#6b4a2a"/><path d="M 1204.5,425.5 L 1198.5,417.5 M 1204.5,425.5 L 1210.5,416.5" stroke="#6b4a2a" stroke-width="1.3" fill="none" stroke-linecap="round"/><path d="M 1108.2,466.4 C 1115.6,466.4 1117.2,482.3 1115.2,487.0 C 1112.9,493.3 1103.5,493.3 1101.2,487.0 C 1099.2,482.3 1100.8,466.4 1108.2,466.4 Z" fill="#8cbd5a"/><path d="M 1095.4,454.2 C 1105.7,454.2 1107.8,475.2 1105.1,481.4 C 1101.9,489.8 1088.9,489.8 1085.7,481.4 C 1083.0,475.2 1085.1,454.2 1095.4,454.2 Z" fill="#d3e7c3" stroke="#d3e7c3" stroke-width="2.6"/><path d="M 1094.4,453.0 C 1104.7,453.0 1106.8,474.0 1104.1,480.2 C 1100.9,488.6 1087.9,488.6 1084.7,480.2 C 1082.0,474.0 1084.1,453.0 1094.4,453.0 Z" fill="#8cbd5a"/><path d="M 1091.4,502.5 L 1098.1,502.5 L 1096.8,483.0 L 1092.7,483.0 Z" fill="#6b4a2a"/><path d="M 1104.4,504.3 L 1110.0,504.3 L 1108.9,489.0 L 1105.5,489.0 Z" fill="#6b4a2a"/><circle cx="1149.7" cy="463.3" r="10.3" fill="#84c080"/><circle cx="1162.8" cy="470.8" r="10.3" fill="#84c080"/><circle cx="1143.2" cy="476.4" r="9.3" fill="#84c080"/><circle cx="1154.0" cy="475.0" r="8.5" fill="#84c080"/><path d="M 1148.1,501.5 L 1156.5,501.5 L 1152.6,462.4 L 1152.0,462.4 Z" fill="#6b4a2a"/><path d="M 1152.3,482.2 L 1146.3,474.2 M 1152.3,482.2 L 1158.3,473.2" stroke="#6b4a2a" stroke-width="1.3" fill="none" stroke-linecap="round"/><circle cx="1204.4" cy="474.5" r="13.3" fill="#84c080"/><circle cx="1216.7" cy="474.5" r="2.7" fill="#84c080"/><circle cx="1215.8" cy="479.2" r="2.7" fill="#84c080"/><circle cx="1213.1" cy="483.2" r="2.7" fill="#84c080"/><circle cx="1209.1" cy="485.9" r="2.7" fill="#84c080"/><circle cx="1204.4" cy="486.8" r="2.7" fill="#84c080"/><circle cx="1199.7" cy="485.9" r="2.7" fill="#84c080"/><circle cx="1195.7" cy="483.2" r="2.7" fill="#84c080"/><circle cx="1193.0" cy="479.2" r="2.7" fill="#84c080"/><circle cx="1192.1" cy="474.5" r="2.7" fill="#84c080"/><circle cx="1193.0" cy="469.8" r="2.7" fill="#84c080"/><circle cx="1195.7" cy="465.8" r="2.7" fill="#84c080"/><circle cx="1199.7" cy="463.1" r="2.7" fill="#84c080"/><circle cx="1204.4" cy="462.2" r="2.7" fill="#84c080"/><circle cx="1209.1" cy="463.1" r="2.7" fill="#84c080"/><circle cx="1213.1" cy="465.8" r="2.7" fill="#84c080"/><circle cx="1215.8" cy="469.8" r="2.7" fill="#84c080"/><path d="M 1200.8,504.3 L 1208.0,504.3 L 1204.8,470.0 L 1204.1,470.0 Z" fill="#6b4a2a"/><path d="M 1204.4,487.4 L 1199.2,481.0 M 1204.4,487.4 L 1209.6,481.0 M 1204.4,480.9 L 1201.2,476.5 M 1204.4,480.9 L 1207.6,476.5" stroke="#6b4a2a" stroke-width="0.9" fill="none" stroke-linecap="round"/><clipPath id="fld"><circle cx="1168.2" cy="551" r="31.6"/></clipPath><clipPath id="hillclip"><rect x="1050" y="480" width="220" height="87.4"/></clipPath><g clip-path="url(#hillclip)"><path d="M 1103.7,607.4 L 1103.7,525.2 A 17.5 17.5 0 0 1 1138.7,525.2 L 1138.7,607.4 Z" fill="#9cb034"/><path d="M 1181.3,607.4 L 1181.3,533.2 A 19.2 19.2 0 0 1 1219.7,533.2 L 1219.7,607.4 Z" fill="#98b232"/><path d="M 1124.0,607.4 L 1124.0,538.7 A 39.4 39.4 0 0 1 1202.8,538.7 L 1202.8,607.4 Z" fill="#b2cd3c"/><path d="M 1136.6,607.4 L 1136.6,551.0 A 31.6 31.6 0 0 1 1199.8,551.0 L 1199.8,607.4 Z" fill="#f0a650"/><g clip-path="url(#fld)"><path d="M 1144.9,515 Q 1145.0,538 1143.5,568 L 1149.7,568 Q 1151.2,538 1149.8,515 Z" fill="#f5c262"/><path d="M 1153.9,515 Q 1157.5,538 1156.0,568 L 1162.2,568 Q 1163.7,538 1158.8,515 Z" fill="#f5c262"/><path d="M 1162.9,515 Q 1170.0,538 1168.5,568 L 1174.7,568 Q 1176.2,538 1167.8,515 Z" fill="#f5c262"/><path d="M 1171.9,515 Q 1182.5,538 1181.0,568 L 1187.2,568 Q 1188.7,538 1176.8,515 Z" fill="#f5c262"/><path d="M 1180.9,515 Q 1195.0,538 1193.5,568 L 1199.7,568 Q 1201.2,538 1185.8,515 Z" fill="#f5c262"/></g><path d="M 1073.4,607.4 L 1073.4,551.3 A 26.8 26.8 0 0 1 1127.0,551.3 L 1127.0,607.4 Z" fill="#b5d248"/><path d="M 1106.4,607.4 L 1106.4,556.3 A 20.8 20.8 0 0 1 1148.0,556.3 L 1148.0,607.4 Z" fill="#9cb034"/><path d="M 1183.8,607.4 L 1183.8,558.7 A 26.0 26.0 0 0 1 1235.8,558.7 L 1235.8,607.4 Z" fill="#587c30"/></g><rect x="1070.5" y="555.8" width="168.2" height="2.6" fill="#f1edd2" /><rect x="1070.5" y="560.8" width="168.2" height="2.6" fill="#f1edd2" /><polygon points="1075.9,566.2 1075.9,551.6 1077.6,549.5 1079.3,551.6 1079.3,566.2" fill="#f1edd2" /><polygon points="1089.7,566.2 1089.7,551.6 1091.4,549.5 1093.1,551.6 1093.1,566.2" fill="#f1edd2" /><polygon points="1103.5,566.2 1103.5,551.6 1105.2,549.5 1106.9,551.6 1106.9,566.2" fill="#f1edd2" /><polygon points="1117.3,566.2 1117.3,551.6 1119.0,549.5 1120.7,551.6 1120.7,566.2" fill="#f1edd2" /><polygon points="1131.1,566.2 1131.1,551.6 1132.8,549.5 1134.5,551.6 1134.5,566.2" fill="#f1edd2" /><polygon points="1144.9,566.2 1144.9,551.6 1146.6,549.5 1148.3,551.6 1148.3,566.2" fill="#f1edd2" /><polygon points="1158.7,566.2 1158.7,551.6 1160.4,549.5 1162.1,551.6 1162.1,566.2" fill="#f1edd2" /><polygon points="1172.5,566.2 1172.5,551.6 1174.2,549.5 1175.9,551.6 1175.9,566.2" fill="#f1edd2" /><polygon points="1186.3,566.2 1186.3,551.6 1188.0,549.5 1189.7,551.6 1189.7,566.2" fill="#f1edd2" /><polygon points="1200.1,566.2 1200.1,551.6 1201.8,549.5 1203.5,551.6 1203.5,566.2" fill="#f1edd2" /><polygon points="1213.9,566.2 1213.9,551.6 1215.6,549.5 1217.3,551.6 1217.3,566.2" fill="#f1edd2" /><polygon points="1227.7,566.2 1227.7,551.6 1229.4,549.5 1231.1,551.6 1231.1,566.2" fill="#f1edd2" /></g>
<g opacity="0.185" fill="#1b9b77" stroke="#1b9b77"><path d="M 533,700.8 L 476,700.8 A 102.5 102.5 0 0 1 389.1,543.7 L 484,391.5" fill="none" stroke-width="105.6" stroke-linecap="round"/><polygon points="400.8,317.4 546.2,279.7 584.0,423.5" stroke-width="79.0" stroke-linejoin="round"/><path d="M 626,163.6 L 660.1,112.7 A 100.8 100.8 0 0 1 828.4,113.5 L 907.5,234.6" fill="none" stroke-width="105.6" stroke-linecap="round"/><polygon points="1007.0,200.0 822.6,305.8 968.0,344.4" stroke-width="79.0" stroke-linejoin="round"/><path d="M 1057,477.5 L 1098.8,546.4 A 101.2 101.2 0 0 1 1013,701.4 L 840,701.4" fill="none" stroke-width="105.6" stroke-linecap="round"/><polygon points="810.7,596.2 810.7,807.4 704.7,701.8" stroke-width="79.0" stroke-linejoin="round"/></g>
<rect x="66.3" y="760.9" width="365.6" height="61.6" fill="#1b9b77" />
<rect x="766.9" y="216.2" width="198.7" height="61.7" fill="#1b9b77" />
<rect x="1054.6" y="603.7" width="198.2" height="62.2" fill="#1b9b77" />
<g opacity="0.999"><!--TEXTGROUP-->
<text x="249.2" y="801.8" font-size="30" font-weight="900" fill="#fff" text-anchor="middle">福清市农业循环产业园</text>
<text x="865.8" y="257.2" font-size="30" font-weight="900" fill="#fff" text-anchor="middle">养殖业</text>
<text x="1153.9" y="645.1" font-size="30" font-weight="900" fill="#fff" text-anchor="middle">种植业</text>
<text x="758.8" y="453" font-size="30" font-weight="900" fill="#404040" text-anchor="middle">福清市全市农业</text>
<text x="758.8" y="490" font-size="30" font-weight="900" fill="#404040" text-anchor="middle">循环经济产业链</text>
<text x="526.6" y="276.5" font-size="16" font-weight="500" fill="#2e9461" text-anchor="middle">粪污</text>
<text x="526.6" y="297.3" font-size="16" font-weight="500" fill="#2e9461" text-anchor="middle">收运</text>
<polygon points="521.7,311.9 532.3,311.9 527.0,317.8" fill="#2e9461" />
<polygon points="521.7,317.6 532.3,317.6 527.0,323.5" fill="#2e9461" />
<polygon points="521.7,323.4 532.3,323.4 527.0,329.3" fill="#2e9461" />
<text x="956.7" y="776" font-size="16" font-weight="500" fill="#2e9461" text-anchor="middle">还田利用</text>
<polygon points="997.1,764.9 1003.1,770.2 997.1,775.6" fill="#2e9461" />
<polygon points="1003.1,764.9 1009.1,770.2 1003.1,775.6" fill="#2e9461" />
<polygon points="1009.1,764.9 1015.1,770.2 1009.1,775.6" fill="#2e9461" />
</g>
</svg>
</body></html>
